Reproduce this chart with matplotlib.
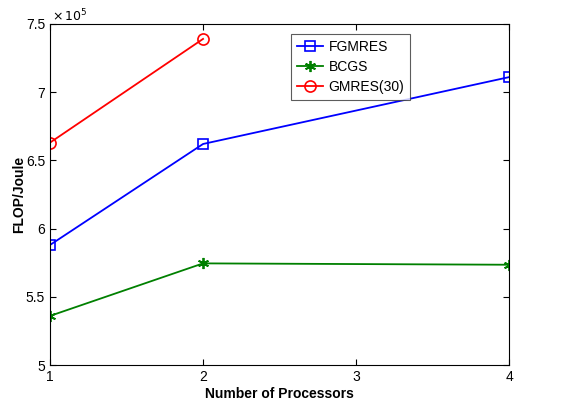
import matplotlib
matplotlib.use("Agg")
import matplotlib.pyplot as plt

plt.rcParams['font.family'] = ['Liberation Sans', 'DejaVu Sans']

procs = [1, 2, 4]
fgmres = [5.88, 6.62, 7.11]
bcgs = [5.36, 5.745, 5.735]
gmres_procs = [1, 2]
gmres30 = [6.63, 7.39]

fig = plt.figure(figsize=(5.64, 4.12), dpi=100)
ax = fig.add_axes([0.0887, 0.114, 0.814, 0.828])

ax.plot(procs, fgmres, color='#0000ff', marker='s', markersize=7,
        markerfacecolor='none', markeredgewidth=1.2, lw=1.3, label='FGMRES')
ax.plot(procs, bcgs, color='#008000', marker=(6, 2, 0), markersize=8,
        markeredgewidth=1.3, lw=1.3, label='BCGS')
ax.plot(gmres_procs, gmres30, color='#ff0000', marker='o', markersize=8,
        markerfacecolor='none', markeredgewidth=1.2, lw=1.3, label='GMRES(30)')

ax.set_xlim(1, 4)
ax.set_ylim(5, 7.5)
ax.set_xticks([1, 2, 3, 4])
ax.set_yticks([5, 5.5, 6, 6.5, 7, 7.5])
ax.set_yticklabels(['5', '5.5', '6', '6.5', '7', '7.5'])
ax.tick_params(direction='in', top=True, right=True, labelsize=10, length=4)
ax.text(0.005, 1.0, r'$\times\,10^{5}$', transform=ax.transAxes, fontsize=9,
        ha='left', va='bottom')

ax.set_xlabel('Number of Processors', fontsize=10, fontweight='bold', labelpad=2)
ax.set_ylabel('FLOP/Joule', fontsize=10, fontweight='bold')
ax.yaxis.set_label_coords(-0.052, 0.5)

leg = ax.legend(loc='upper left', bbox_to_anchor=(0.51, 0.99), fontsize=10,
                fancybox=False, edgecolor='#333333', handlelength=1.9,
                handletextpad=0.4, borderpad=0.4, labelspacing=0.45)
leg.get_frame().set_linewidth(0.8)

fig.savefig('out.png', dpi=100)
